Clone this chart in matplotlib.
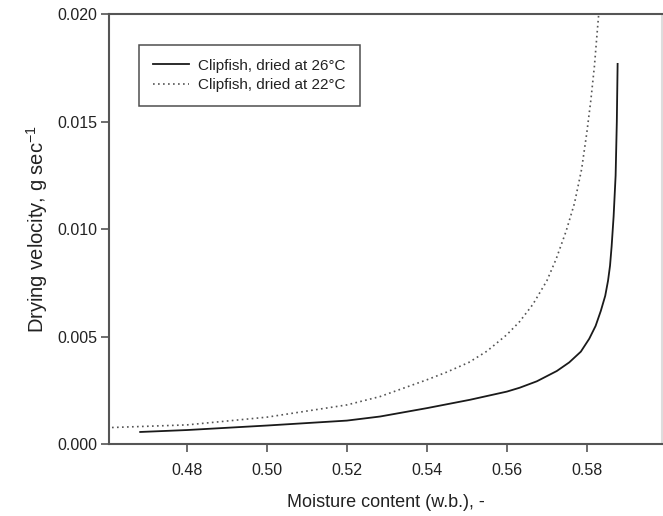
import matplotlib
matplotlib.use('Agg')
import matplotlib.pyplot as plt

plt.rcParams['font.family'] = ['Liberation Sans', 'DejaVu Sans']

# Clipfish dried at 26 C (solid)
moisture_26 = [0.4683, 0.480, 0.500, 0.520, 0.5283, 0.540, 0.5508, 0.560, 0.5632,
               0.5675, 0.5725, 0.5756, 0.5785, 0.5806, 0.5822, 0.5835, 0.5846,
               0.5853, 0.5858, 0.5862, 0.5867, 0.5872, 0.5875, 0.5877]
velocity_26 = [0.00056, 0.00065, 0.00086, 0.00109, 0.00128, 0.00167, 0.00206, 0.00244,
               0.00262, 0.00292, 0.00340, 0.00380, 0.00430, 0.00490, 0.00550, 0.00620,
               0.00690, 0.00760, 0.00830, 0.00920, 0.01060, 0.01250, 0.01500, 0.01770]

# Clipfish dried at 22 C (dotted)
moisture_22 = [0.4600, 0.480, 0.500, 0.520, 0.5283, 0.540, 0.545, 0.5505, 0.555,
               0.560, 0.5632, 0.5665, 0.5700, 0.5723, 0.5748, 0.5769, 0.5787,
               0.5800, 0.5810, 0.5819, 0.5826, 0.5831]
velocity_22 = [0.00076, 0.00089, 0.00125, 0.00182, 0.00221, 0.00299, 0.00335, 0.00380,
               0.00432, 0.00509, 0.00570, 0.00650, 0.00760, 0.00860, 0.00990, 0.01120,
               0.01280, 0.01450, 0.01600, 0.01760, 0.01920, 0.02030]

x_ticks = [0.48, 0.50, 0.52, 0.54, 0.56, 0.58]
y_ticks = [0.000, 0.005, 0.010, 0.015, 0.020]

fig = plt.figure(figsize=(6.63, 5.16), dpi=100)
ax = fig.add_axes([109 / 663, 1 - 444 / 516, 553 / 663, (444 - 14.5) / 516])

ax.plot(moisture_26, velocity_26, color='#1a1a1a', lw=1.3, label='Clipfish, dried at 26\u00b0C')
ax.plot(moisture_22, velocity_22, color='#555555', lw=1.2, ls=(0, (1, 2)),
        label='Clipfish, dried at 22\u00b0C')

ax.set_xlim(0.4605, 0.5988)
ax.set_ylim(0.0, 0.020)
ax.set_xticks(x_ticks)
ax.set_xticklabels([f'{v:.2f}' for v in x_ticks])
ax.set_yticks(y_ticks)
ax.set_yticklabels([f'{v:.3f}' for v in y_ticks])

for side in ['left', 'bottom', 'top', 'right']:
    ax.spines[side].set_color('#555555')
    ax.spines[side].set_linewidth(1.5)
ax.spines['right'].set_color('#dddddd')

ax.tick_params(direction='out', length=5.5, width=1.2, color='#555555',
               labelsize=11.5, labelcolor='#222222')
ax.tick_params(axis='x', pad=8)
ax.tick_params(axis='y', pad=3)

ax.set_xlabel('Moisture content (w.b.), -', fontsize=13, color='#222222', labelpad=12)
ax.set_ylabel('Drying velocity, g sec$^{\\mathregular{-1}}$', fontsize=14.5,
              color='#222222', labelpad=5)

leg = ax.legend(loc='upper left', bbox_to_anchor=(0.054, 0.929), borderaxespad=0,
                fontsize=11, frameon=True, fancybox=False, handlelength=2.4,
                handletextpad=0.6, borderpad=0.9, labelspacing=0.35)
leg.get_frame().set_edgecolor('#222222')
leg.get_frame().set_linewidth(1.1)
for t in leg.get_texts():
    t.set_color('#222222')

fig.savefig('out.png', dpi=100)
